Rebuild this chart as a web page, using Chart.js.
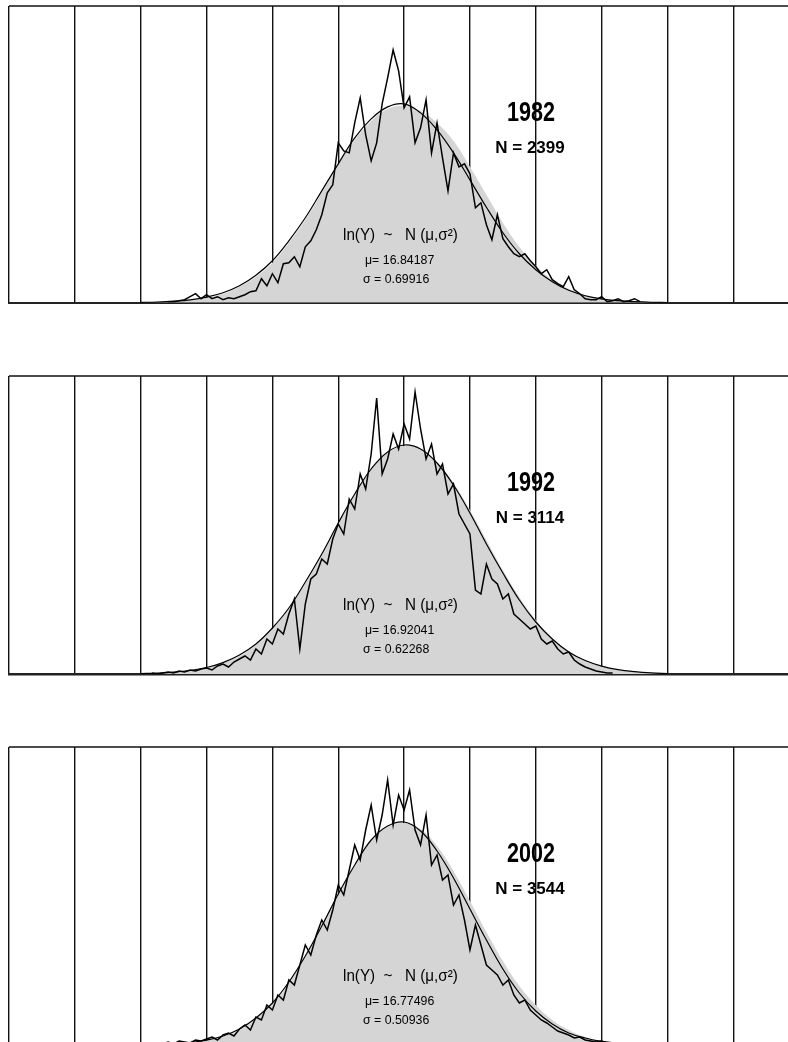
<!DOCTYPE html>
<html>
<head>
<meta charset="utf-8">
<script src="https://cdn.jsdelivr.net/npm/chart.js@4.4.1/dist/chart.umd.min.js"></script>
<style>
  html, body { margin: 0; padding: 0; background: #fff; width: 788px; height: 1042px; overflow: hidden; }
  canvas.panel { position: absolute; left: 0; }
</style>
</head>
<body>
<canvas id="p1982" class="panel" width="810" height="304" style="top:0px"></canvas>
<canvas id="p1992" class="panel" width="810" height="306" style="top:370px"></canvas>
<canvas id="p2002" class="panel" width="810" height="306" style="top:741px"></canvas>

<script>
// ======================
// DATA
// x axis is in bins (12 bins between grid lines), y is frequency
// ======================
const BINS_TOTAL = 144;
const BINS_PER_GRID = 12;
const CURVE_START = 24;   // first bin of the smooth curves
const CURVE_STEP = 3;     // bins between smooth curve samples

const years = ['1982', '1992', '2002'];
const counts = [2399, 3114, 3544];
const mus = ['16.84187', '16.92041', '16.77496'];
const sigmas = ['0.69916', '0.62268', '0.50936'];

// raw histogram, one value per bin
const histStart1982 = 29;
const hist1982 = [
  1, 1, 2, 3, 6, 9, 4, 8, 4, 6, 3, 5, 4, 6, 8, 11, 12, 24, 17, 29,
  20, 39, 40, 46, 36, 56, 62, 73, 88, 110, 118, 160, 152, 150, 180, 205, 168, 142, 160, 199,
  225, 253, 232, 195, 206, 160, 175, 203, 150, 180, 145, 112, 150, 136, 139, 129, 95, 100, 78, 63,
  88, 64, 56, 49, 46, 49, 42, 36, 29, 33, 23, 19, 16, 26, 13, 9, 4, 3, 3, 6,
  1, 2, 4, 1, 2, 4, 1
];

const histStart1992 = 26;
const hist1992 = [
  1, 0, 1, 2, 1, 3, 2, 4, 3, 5, 6, 4, 8, 10, 7, 12, 15, 18, 14, 25,
  20, 35, 30, 45, 40, 60, 75, 25, 70, 95, 100, 115, 110, 135, 150, 140, 175, 165, 200, 185,
  220, 276, 200, 215, 240, 225, 250, 235, 282, 245, 215, 230, 200, 210, 180, 190, 160, 150, 140, 84,
  80, 110, 95, 90, 75, 80, 60, 55, 50, 45, 48, 35, 30, 33, 25, 20, 22, 14, 10, 7,
  5, 3, 2, 1, 1
];

const histStart2002 = 27;
const hist2002 = [
  2, 1, 3, 1, 4, 3, 2, 5, 4, 6, 8, 5, 10, 12, 9, 16, 20, 15, 28, 25,
  40, 35, 50, 45, 65, 60, 80, 100, 90, 110, 125, 115, 135, 160, 150, 175, 200, 185, 215, 240,
  205, 230, 265, 220, 250, 235, 255, 215, 200, 230, 180, 190, 165, 170, 140, 150, 125, 95, 120, 100,
  80, 75, 70, 60, 65, 50, 42, 45, 35, 30, 25, 22, 18, 14, 12, 10, 7, 8, 5, 4,
  3, 4, 2, 1, 2, 1
];

// fitted lognormal density, sampled every CURVE_STEP bins from CURVE_START
const fit1982 = [
  0.3, 0.7, 1.5, 2.9, 5.6, 10, 17, 27.5, 42, 62, 85, 112, 139, 165, 184, 196, 199,
  190, 173, 150, 123, 95.5, 70, 49, 33, 21, 12.4, 7, 3.8, 2, 1, 0.4, 0.2
];
const fit1992 = [
  0.4, 0.9, 1.8, 3.5, 6.5, 11.4, 19, 30, 46, 66, 92, 120, 151, 180, 205, 222, 229,
  225, 211, 189, 161, 130, 101, 74, 52, 35, 22, 13.5, 7.9, 4.3, 2.3, 1.1, 0.5
];
const fit2002 = [
  0.2, 0.5, 1.2, 2.5, 4.9, 9, 16, 27, 42, 63, 89, 119, 151, 180, 205, 219, 223,
  214, 194, 167, 136, 105, 76, 52, 34, 21, 12, 7, 3.6, 1.8, 0.8, 0.4, 0.2
];

// smoothed density (grey area)
const smooth1982 = [
  0, 0.5, 1, 2.5, 5, 9, 16, 26, 40, 60, 83, 110, 138, 163, 182, 194, 197,
  192, 180, 162, 136, 108, 80, 56, 37, 23, 14, 8, 4, 2, 1, 0.4, 0
];
const smooth1992 = [
  0, 0.6, 1.5, 3, 6, 11, 18, 29, 45, 65, 91, 119, 150, 179, 204, 221, 228,
  225, 212, 191, 164, 134, 104, 77, 54, 36, 23, 14, 8, 4, 2, 1, 0
];
const smooth2002 = [
  0, 0.4, 1, 2.2, 4.6, 8.6, 15, 26, 41, 62, 88, 118, 150, 179, 204, 218, 222,
  216, 199, 174, 144, 113, 84, 59, 40, 25, 15, 8, 4, 2, 1, 0.4, 0
];

// ======================
// HELPERS
// ======================
function toPoints(values, start, step) {
  return values.map((v, i) => ({ x: start + i * step, y: v }));
}

const FONT = '"Liberation Sans", Arial, sans-serif';

function drawText(ctx, text, x, y, font, align, scaleX) {
  ctx.save();
  ctx.font = font;
  ctx.fillStyle = '#000';
  ctx.textBaseline = 'middle';
  ctx.translate(x, y);
  ctx.scale(scaleX || 1, 1);
  ctx.textAlign = align;
  ctx.fillText(text, 0, 0);
  ctx.restore();
}

// top frame line + annotation text
const panelText = {
  id: 'panelText',
  afterDatasetsDraw(chart, args, opts) {
    const { ctx, chartArea } = chart;
    const L = chartArea.left;
    const T = chartArea.top;

    ctx.save();
    ctx.strokeStyle = '#111';
    ctx.lineWidth = 1.6;
    ctx.beginPath();
    ctx.moveTo(L, T);
    ctx.lineTo(chartArea.right, T);
    ctx.stroke();
    ctx.restore();

    drawText(ctx, opts.year, L + 522, T + 108, 'bold 27px ' + FONT, 'center', 0.8);
    drawText(ctx, 'N = ' + opts.count, L + 521, T + 142, 'bold 17px ' + FONT, 'center', 1);
    drawText(ctx, 'ln(Y)  ~   N (\u03bc,\u03c3\u00b2)', L + 334, T + 230, '16px ' + FONT, 'left', 0.95);
    drawText(ctx, '\u03bc= ' + opts.mu, L + 356, T + 254, '13px ' + FONT, 'left', 0.95);
    drawText(ctx, '\u03c3 = ' + opts.sigma, L + 354, T + 273, '13px ' + FONT, 'left', 0.95);
  }
};

// ======================
// PANEL CHART
// ======================
function renderPanel(canvasId, i, hist, histStart, fit, smooth, yMax, padBottom) {
  const canvas = document.getElementById(canvasId);
  if (!canvas || typeof Chart === 'undefined') return;

  new Chart(canvas, {
    type: 'line',
    data: {
      datasets: [
        {
          data: toPoints(smooth, CURVE_START, CURVE_STEP),
          fill: 'origin',
          backgroundColor: '#d5d5d5',
          borderWidth: 0,
          pointRadius: 0,
          tension: 0.4,
          order: 3
        },
        {
          data: toPoints(fit, CURVE_START, CURVE_STEP),
          fill: false,
          borderColor: '#000',
          borderWidth: 1.2,
          pointRadius: 0,
          tension: 0.4,
          order: 2
        },
        {
          data: toPoints(hist, histStart, 1),
          fill: false,
          borderColor: '#000',
          borderWidth: 1.5,
          pointRadius: 0,
          tension: 0,
          order: 1
        }
      ]
    },
    options: {
      responsive: false,
      animation: false,
      events: [],
      layout: { padding: { top: 6, left: 9, right: 10.8, bottom: padBottom } },
      plugins: {
        legend: { display: false },
        tooltip: { enabled: false },
        panelText: {
          year: years[i],
          count: counts[i],
          mu: mus[i],
          sigma: sigmas[i]
        }
      },
      scales: {
        x: {
          type: 'linear',
          min: 0,
          max: BINS_TOTAL,
          z: 1,
          ticks: { display: false, stepSize: BINS_PER_GRID, maxTicksLimit: 20 },
          grid: { color: '#111', lineWidth: 1.4, drawTicks: false },
          border: { display: true, color: '#222', width: 2.4 }
        },
        y: {
          display: false,
          min: 0,
          max: yMax
        }
      }
    },
    plugins: [panelText]
  });
}

renderPanel('p1982', 0, hist1982, histStart1982, fit1982, smooth1982, 297, 1.3);
renderPanel('p1992', 1, hist1992, histStart1992, fit1992, smooth1992, 298, 2);
renderPanel('p2002', 2, hist2002, histStart2002, fit2002, smooth2002, 298, 2);
</script>
</body>
</html>
